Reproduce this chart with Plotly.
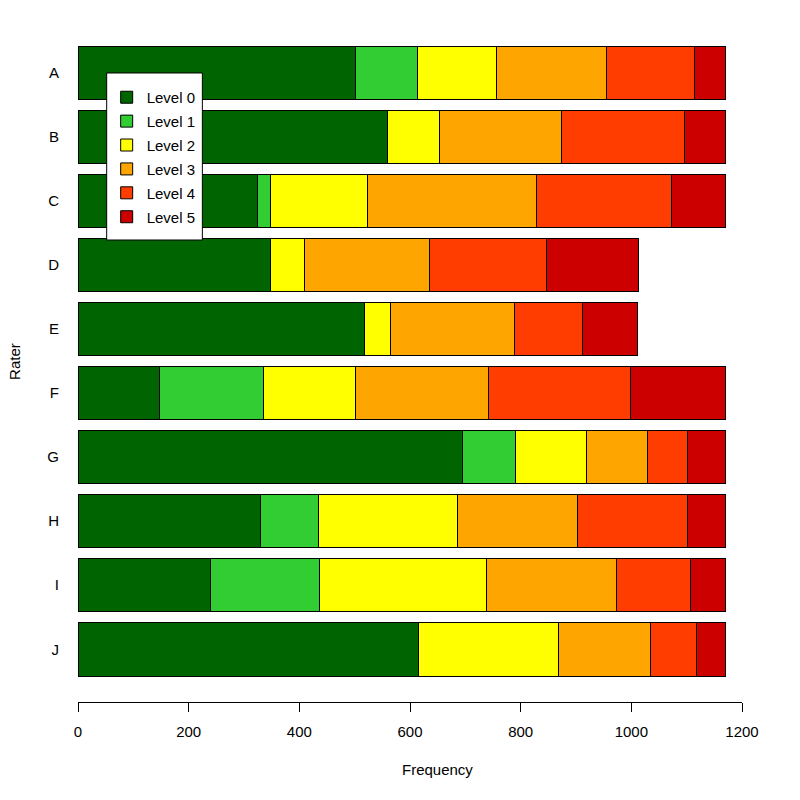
import plotly.graph_objects as go

raters = ["A", "B", "C", "D", "E", "F", "G", "H", "I", "J"]
level_names = ["Level 0", "Level 1", "Level 2", "Level 3", "Level 4", "Level 5"]
level_colors = ["#006400", "#32CD32", "#FFFF00", "#FFA500", "#FF3D00", "#CD0000"]

level0 = [502, 560, 324, 347, 517, 147, 694, 329, 239, 615]
level1 = [111, 0, 23, 0, 0, 189, 97, 105, 197, 0]
level2 = [144, 94, 176, 63, 48, 165, 128, 251, 302, 254]
level3 = [198, 219, 305, 226, 224, 240, 111, 217, 235, 166]
level4 = [159, 223, 244, 210, 122, 258, 71, 199, 134, 82]
level5 = [57, 75, 99, 167, 101, 172, 70, 70, 64, 54]

x_ticks = [0, 200, 400, 600, 800, 1000, 1200]

series = [level0, level1, level2, level3, level4, level5]

FONT = "Liberation Sans, Arial, sans-serif"

fig = go.Figure()
for name, color, vals in zip(level_names, level_colors, series):
    fig.add_trace(go.Bar(
        y=raters, x=vals, orientation="h", name=name,
        legendgroup=name,
        marker=dict(color=color, line=dict(color="black", width=1)),
        cliponaxis=False,
        hoverinfo="x+y+name",
    ))

fig.update_layout(
    width=800, height=800,
    margin=dict(l=70, r=66, t=12, b=106, autoexpand=False),
    paper_bgcolor="white", plot_bgcolor="white",
    barmode="stack", bargap=1 - 1 / 1.2,
    font=dict(family=FONT, size=15, color="black"),
    showlegend=True,
    legend=dict(
        x=0.0432, xanchor="left", y=0.9106, yanchor="top",
        bgcolor="rgba(0,0,0,0)", borderwidth=0,
        traceorder="grouped", tracegroupgap=1.4,
        font=dict(family=FONT, size=15, color="black"),
    ),
    xaxis=dict(
        range=[0, 1200], tickvals=x_ticks, ticktext=[str(v) for v in x_ticks],
        showline=True, linecolor="black", linewidth=1,
        ticks="outside", ticklen=9, tickcolor="black", tickwidth=1,
        showgrid=False, zeroline=False, ticklabelstandoff=7,
    ),
    yaxis=dict(
        categoryorder="array", categoryarray=raters,
        range=[9.8225, -0.8225], autorange=False,
        showline=False, showgrid=False, zeroline=False,
        ticks="", ticklabelstandoff=18,
    ),
    shapes=[dict(
        type="rect", xref="paper", yref="paper",
        x0=0.0432, x1=0.1873, y0=0.6774, y1=0.9223,
        fillcolor="white", line=dict(color="black", width=1), layer="above",
    )],
    annotations=[
        dict(text="Frequency", xref="paper", yref="paper", x=0.541, y=-0.0997,
             xanchor="center", yanchor="middle", showarrow=False,
             font=dict(family=FONT, size=15, color="black")),
        dict(text="Rater", xref="paper", yref="paper", x=-0.0965, y=0.5,
             xanchor="center", yanchor="middle", textangle=-90, showarrow=False,
             font=dict(family=FONT, size=15, color="black")),
    ],
)

fig.write_html("out.html")
